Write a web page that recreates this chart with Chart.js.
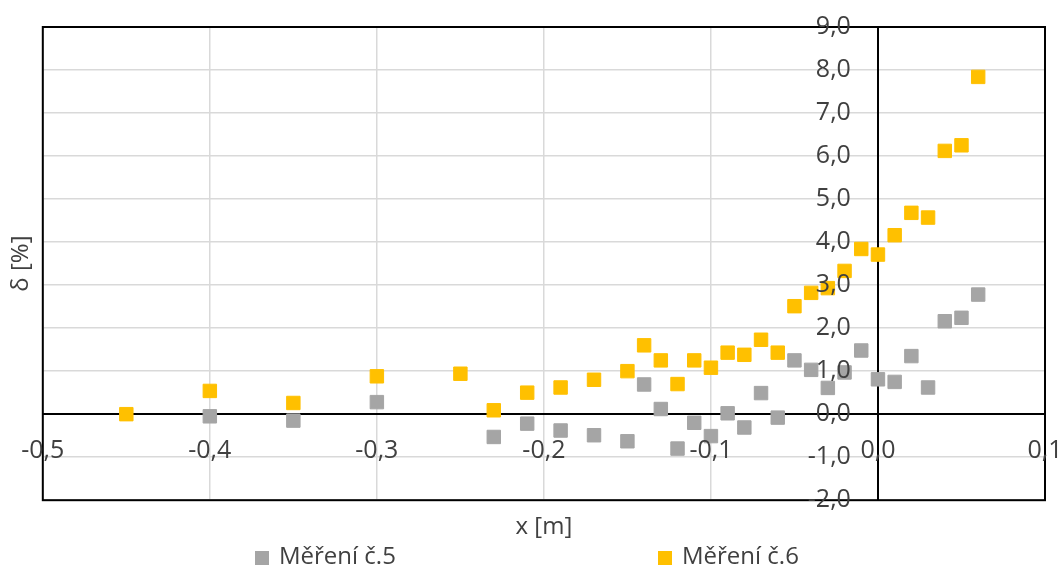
<!DOCTYPE html>
<html>
<head>
<meta charset="utf-8">
<script src="https://cdn.jsdelivr.net/npm/chart.js@4.4.1/dist/chart.umd.min.js"></script>
<style>
  html, body { margin: 0; padding: 0; background: #fff; }
</style>
</head>
<body>
<canvas id="chart" width="1059" height="570"></canvas>
<script>
// Měření č.5 - position [m] and deviation [%]
const x5 = [-0.40, -0.35, -0.30, -0.23, -0.21, -0.19, -0.17, -0.15, -0.14, -0.13, -0.12, -0.11, -0.10,
            -0.09, -0.08, -0.07, -0.06, -0.05, -0.04, -0.03, -0.02, -0.01, 0.00, 0.01, 0.02, 0.03,
            0.04, 0.05, 0.06];
const d5 = [-0.05, -0.15, 0.28, -0.53, -0.22, -0.38, -0.49, -0.63, 0.69, 0.12, -0.80, -0.20, -0.51,
            0.02, -0.31, 0.49, -0.08, 1.25, 1.03, 0.61, 0.97, 1.48, 0.81, 0.75, 1.35, 0.62,
            2.16, 2.24, 2.78];

// Měření č.6
const x6 = [-0.45, -0.40, -0.35, -0.30, -0.25, -0.23, -0.21, -0.19, -0.17, -0.15, -0.14, -0.13, -0.12,
            -0.11, -0.10, -0.09, -0.08, -0.07, -0.06, -0.05, -0.04, -0.03, -0.02, -0.01, 0.00, 0.01,
            0.02, 0.03, 0.04, 0.05, 0.06];
const d6 = [0.00, 0.54, 0.26, 0.88, 0.94, 0.09, 0.50, 0.62, 0.80, 1.00, 1.60, 1.25, 0.70,
            1.25, 1.08, 1.43, 1.38, 1.73, 1.43, 2.51, 2.82, 2.93, 3.33, 3.84, 3.71, 4.16,
            4.68, 4.57, 6.12, 6.25, 7.84];

const seriesNames = ["Měření č.5", "Měření č.6"];
const seriesColors = ["#A5A5A5", "#FFC000"];
const xTitle = "x [m]";
const yTitle = "δ [%]";
const xMin = -0.5, xMax = 0.1, xStep = 0.1;
const yMin = -2, yMax = 9, yStep = 1;

const toPoints = (xs, ys) => xs.map((x, i) => ({ x: x, y: ys[i] }));

// czech style number: one decimal, comma
function fmt(v) {
  if (Math.abs(v) < 1e-9) v = 0;
  return v.toFixed(1).replace(".", ",");
}

const textColor = "#404040";
const isZero = (ctx) => ctx.tick && Math.abs(ctx.tick.value) < 1e-9;

// black frame round the plot area
const frame = {
  id: "frame",
  beforeDatasetsDraw(chart) {
    const a = chart.chartArea, c = chart.ctx;
    c.save();
    c.strokeStyle = "#000";
    c.lineWidth = 2;
    c.strokeRect(a.left, a.top, a.right - a.left, a.bottom - a.top);
    c.restore();
  }
};

// legend spread along the bottom like the original
const bottomLegend = {
  id: "bottomLegend",
  afterDraw(chart, args, opts) {
    const c = chart.ctx;
    c.save();
    c.font = "24px 'Open Sans'";
    c.textBaseline = "middle";
    c.textAlign = "left";
    chart.data.datasets.forEach((ds, i) => {
      const left = opts.starts[i];
      c.fillStyle = ds.backgroundColor;
      c.fillRect(left, opts.y - 7, 14, 14);
      c.fillStyle = textColor;
      c.fillText(ds.label, left + 24, opts.y - 1);
    });
    c.restore();
  }
};

new Chart(document.getElementById("chart"), {
  type: "scatter",
  plugins: [frame, bottomLegend],
  data: {
    datasets: [
      {
        label: seriesNames[0],
        data: toPoints(x5, d5),
        backgroundColor: seriesColors[0],
        borderColor: seriesColors[0],
        borderWidth: 1,
        pointStyle: "rect",
        pointRadius: 9.5,
        order: 1
      },
      {
        label: seriesNames[1],
        data: toPoints(x6, d6),
        backgroundColor: seriesColors[1],
        borderColor: seriesColors[1],
        borderWidth: 1,
        pointStyle: "rect",
        pointRadius: 9.5,
        order: 0
      }
    ]
  },
  options: {
    responsive: false,
    animation: false,
    layout: { padding: { left: 3, right: 14, top: 27, bottom: 28 } },
    plugins: {
      legend: { display: false },
      tooltip: { enabled: false },
      bottomLegend: { starts: [255, 658], y: 558 }
    },
    scales: {
      x: {
        type: "linear",
        position: { y: 0 },
        min: xMin, max: xMax,
        afterFit: (s) => { s.paddingLeft = 0; s.paddingRight = 0; },
        // the line at x = 0 is the vertical axis line, drawn black
        grid: {
          z: -0.5,
          color: (ctx) => isZero(ctx) ? "#000" : "#D9D9D9",
          lineWidth: (ctx) => isZero(ctx) ? 2 : 1.5,
          drawTicks: false
        },
        border: { color: "#000", width: 2, z: 0 },
        ticks: {
          stepSize: xStep, padding: 22, z: 1, maxRotation: 0, autoSkip: false,
          color: textColor, font: { family: "Open Sans", size: 25 },
          callback: (v) => fmt(v)
        }
      },
      y: {
        type: "linear",
        // labels sit a little left of the x = 0 line
        position: { x: -0.0162 },
        min: yMin, max: yMax,
        afterFit: (s) => { s.paddingTop = 0; s.paddingBottom = 0; },
        grid: {
          color: (ctx) => isZero(ctx) ? "rgba(0,0,0,0)" : "#D9D9D9",
          lineWidth: 1.5,
          drawTicks: false
        },
        border: { display: false },
        ticks: {
          stepSize: yStep, z: 1, autoSkip: false,
          color: textColor, font: { family: "Open Sans", size: 25 },
          callback: (v) => fmt(v)
        }
      },
      // holders for the axis titles at the outer edges
      xt: {
        type: "linear", axis: "x", position: "bottom",
        ticks: { display: false },
        grid: { display: false, drawTicks: false },
        border: { display: false },
        title: { display: true, text: xTitle, color: textColor,
                 font: { family: "Open Sans", size: 24 }, padding: { top: 13, bottom: 0 } }
      },
      yt: {
        type: "linear", axis: "y", position: "left",
        ticks: { display: false },
        grid: { display: false, drawTicks: false },
        border: { display: false },
        title: { display: true, text: yTitle, color: textColor,
                 font: { family: "Open Sans", size: 24 }, padding: { top: 4, bottom: 7 } }
      }
    }
  }
});
</script>
</body>
</html>
